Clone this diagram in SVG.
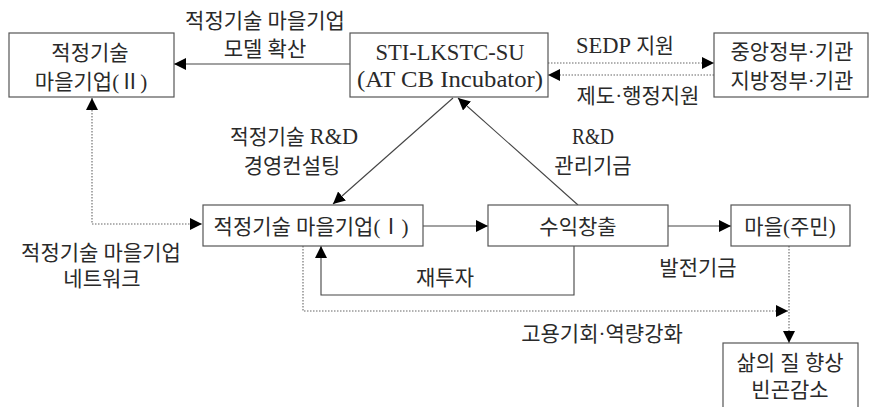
<svg xmlns="http://www.w3.org/2000/svg" width="870" height="407" viewBox="0 0 870 407">
<style>
  .box { fill: #fff; stroke: #555; stroke-width: 1.2; }
  .t { font-family: "Liberation Serif", "Noto Sans CJK KR", serif; font-size: 21px; fill: #2a2a2a; text-anchor: middle; }
  .lat { font-size: 23px; }
  .ln { fill: none; stroke: #444; stroke-width: 1.1; }
  .dot { fill: none; stroke: #666; stroke-width: 1.1; stroke-dasharray: 1.5 1.5; }
</style>
<defs>
  <marker id="ah" viewBox="0 0 12 12" refX="12" refY="6" markerWidth="12" markerHeight="12" markerUnits="userSpaceOnUse" orient="auto-start-reverse">
    <path d="M0,0 L12,6 L0,12 z" fill="#000"/>
  </marker>
</defs>
<rect width="870" height="407" fill="#fff"/>

<g id="connectors">
  <path class="ln" d="M350,64 H174" marker-end="url(#ah)"/>
  <path class="dot" d="M548,63 H714" marker-end="url(#ah)"/>
  <path class="dot" d="M714,75 H548" marker-end="url(#ah)"/>
  <path class="ln" d="M453,98 L333,204" marker-end="url(#ah)"/>
  <path class="ln" d="M578,205 L458,98" marker-end="url(#ah)"/>
  <path class="dot" d="M92,98 V224 H202" marker-start="url(#ah)" marker-end="url(#ah)"/>
  <path class="ln" d="M423,226 H488" marker-end="url(#ah)"/>
  <path class="ln" d="M668,226 H731" marker-end="url(#ah)"/>
  <path class="ln" d="M574,246 V295 H321 V246" marker-end="url(#ah)"/>
  <path class="dot" d="M303,246 V311 H788" marker-end="url(#ah)"/>
  <path class="dot" d="M789,246 V343" marker-end="url(#ah)"/>
</g>

<g id="labels">
  <text class="t" x="265" y="28">적정기술 마을기업</text>
  <text class="t" x="265" y="56">모델 확산</text>
  <text class="t" x="625" y="53" textLength="98" lengthAdjust="spacingAndGlyphs"><tspan class="lat">SEDP</tspan> 지원</text>
  <text class="t" x="638" y="103">제도·행정지원</text>
  <text class="t" x="294" y="144" textLength="128" lengthAdjust="spacingAndGlyphs">적정기술 <tspan class="lat">R&amp;D</tspan></text>
  <text class="t" x="292" y="173">경영컨설팅</text>
  <text class="t lat" x="593" y="144" textLength="42" lengthAdjust="spacingAndGlyphs">R&amp;D</text>
  <text class="t" x="593" y="173">관리기금</text>
  <text class="t" x="101" y="260">적정기술 마을기업</text>
  <text class="t" x="102" y="286">네트워크</text>
  <text class="t" x="698" y="275">발전기금</text>
  <text class="t" x="445" y="285">재투자</text>
  <text class="t" x="602" y="341">고용기회·역량강화</text>
</g>

<g id="node-village-company-2">
  <rect class="box" x="9" y="33" width="165" height="64"/>
  <text class="t" x="90" y="60">적정기술</text>
  <text class="t" x="91" y="89">마을기업(Ⅱ)</text>
</g>

<g id="node-sti">
  <rect class="box" x="350" y="33" width="198" height="64"/>
  <text class="t lat" x="450" y="60" textLength="149" lengthAdjust="spacingAndGlyphs">STI-LKSTC-SU</text>
  <text class="t lat" x="450" y="87" textLength="186" lengthAdjust="spacingAndGlyphs">(AT CB Incubator)</text>
</g>

<g id="node-government">
  <rect class="box" x="714" y="33" width="154" height="64"/>
  <text class="t" x="792" y="59">중앙정부·기관</text>
  <text class="t" x="792" y="88">지방정부·기관</text>
</g>

<g id="node-village-company-1">
  <rect class="box" x="203" y="205" width="220" height="41"/>
  <text class="t" x="311" y="234">적정기술 마을기업(Ⅰ)</text>
</g>

<g id="node-revenue">
  <rect class="box" x="488" y="205" width="180" height="41"/>
  <text class="t" x="578" y="234">수익창출</text>
</g>

<g id="node-village">
  <rect class="box" x="731" y="205" width="119" height="41"/>
  <text class="t" x="790" y="234">마을(주민)</text>
</g>

<g id="node-quality">
  <rect class="box" x="723" y="343" width="135" height="70"/>
  <text class="t" x="790" y="370">삶의 질 향상</text>
  <text class="t" x="790" y="397">빈곤감소</text>
</g>
</svg>
